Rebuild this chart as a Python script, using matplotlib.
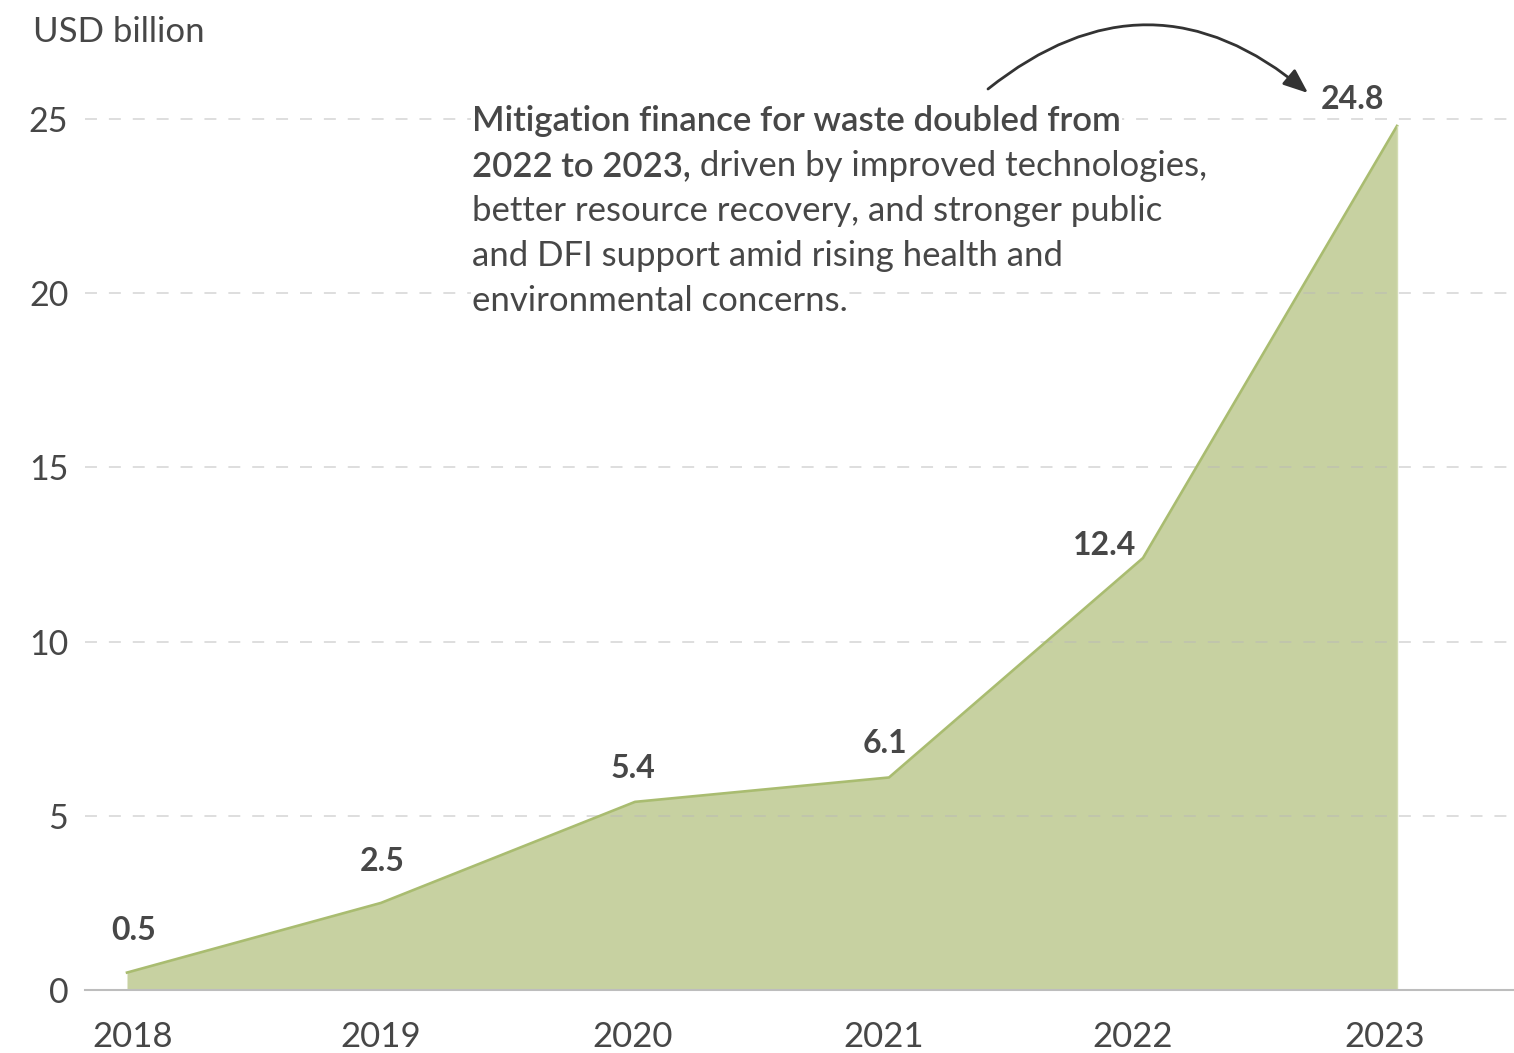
import matplotlib
matplotlib.use("Agg")
import matplotlib.pyplot as plt
import matplotlib.transforms as mtransforms

years = [2018, 2019, 2020, 2021, 2022, 2023]
finance = [0.5, 2.5, 5.4, 6.1, 12.4, 24.8]
value_labels = ["0.5", "2.5", "5.4", "6.1", "12.4", "24.8"]
y_ticks = [0, 5, 10, 15, 20, 25]

note_bold_1 = "Mitigation finance for waste doubled from"
note_bold_2 = "2022 to 2023,"
note_rest = [" driven by improved technologies,",
             "better resource recovery, and stronger public",
             "and DFI support amid rising health and",
             "environmental concerns."]

TEXT = "#474747"
FILL = "#c7d1a1"
EDGE = "#a9bc70"
FONT = "Lato"

plt.rcParams["font.family"] = [FONT, "DejaVu Sans"]
plt.rcParams["lines.scale_dashes"] = False

W, H = 1514, 1053
fig = plt.figure(figsize=(W / 100, H / 100), dpi=100)
ax = fig.add_axes([85 / W, 63 / H, 1 - 85 / W, 990 / H])

px_y = 34.84   # pixels per unit on y
px_x = 254.0   # pixels per year
ax.set_xlim(2018 - 42 / px_x, 2018 + (W - 127) / px_x)
ax.set_ylim(0, 990 / px_y)

ax.fill_between(years, finance, 0, color=FILL, lw=0, zorder=1)
ax.plot(years, finance, color=EDGE, lw=1.9, zorder=2, solid_joinstyle="round")
ax.plot([years[-1], years[-1]], [0, finance[-1]], color="#d3dcb3", lw=1.0, zorder=2)

# dashed gridlines
for t in y_ticks[1:]:
    ax.axhline(t, color="#b8b8b8", alpha=0.6, lw=1.1, ls=(0, (8.6, 8.6)), zorder=1.5)

for s in ["top", "right", "left"]:
    ax.spines[s].set_visible(False)
ax.spines["bottom"].set_color("#bdbdbd")
ax.spines["bottom"].set_linewidth(1.5)
ax.spines["bottom"].set_zorder(3)

ax.set_yticks(y_ticks)
ax.set_yticklabels([str(t) for t in y_ticks])
ax.set_xticks(years)
ax.set_xticklabels([str(y) for y in years])
ax.tick_params(axis="y", length=0, pad=12, labelsize=24.5, labelcolor=TEXT)
ax.tick_params(axis="x", length=0, pad=22, labelsize=25, labelcolor=TEXT)

# the year labels sit on a slightly narrower scale than the data points
label_shift = [6, 0, -2, -5, -10, -12]
for lab, dx in zip(ax.get_xticklabels(), label_shift):
    lab.set_transform(lab.get_transform() + mtransforms.ScaledTranslation(dx / 100, 0, fig.dpi_scale_trans))

fig.text(33 / W, 1 - 32 / H, "USD billion", fontsize=25, color=TEXT, va="center", ha="left")

# value labels (offsets in pixels)
offsets = [(7, 42), (1, 41), (-2, 33), (-4, 34), (-38, 12), (-44, 26)]
for x, y, lab, (dx, dy) in zip(years, finance, value_labels, offsets):
    ax.annotate(lab, xy=(x, y), xytext=(dx * 0.72, dy * 0.72), textcoords="offset points",
                ha="center", va="center", fontsize=23, fontweight="bold", color=TEXT, zorder=4)

# annotation text, one line at a time so each line masks the gridlines behind it
tx = 2018 + (472 - 127) / px_x
ty0 = (990 - 131) / px_y
dy_line = 45 / px_y
box = dict(facecolor="white", edgecolor="none", pad=1)
ax.text(tx, ty0, note_bold_1, fontsize=25, fontweight="semibold", color=TEXT,
        va="baseline", ha="left", bbox=box, zorder=4)
b2 = ax.text(tx, ty0 - dy_line, note_bold_2, fontsize=25, fontweight="semibold", color=TEXT,
             va="baseline", ha="left", bbox=box, zorder=4)
ax.annotate(note_rest[0], xy=(1, 0), xycoords=b2, xytext=(0, 0), textcoords="offset points",
            fontsize=25, color=TEXT, va="bottom", ha="left", bbox=box, zorder=4)
for i, line in enumerate(note_rest[1:], start=2):
    ax.text(tx, ty0 - i * dy_line, line, fontsize=25, color=TEXT,
            va="baseline", ha="left", bbox=box, zorder=4)

# curved arrow pointing at the 2023 value
ax.annotate("", xy=(2018 + (1308 - 127) / px_x, (990 - 93) / px_y),
            xytext=(2018 + (988 - 127) / px_x, (990 - 89) / px_y),
            annotation_clip=False,
            arrowprops=dict(arrowstyle="-|>,head_length=1.5,head_width=0.6", color="#333333",
                            lw=2.0, shrinkA=0, shrinkB=0, connectionstyle="arc3,rad=-0.41"))

fig.savefig("out.png", dpi=100)
